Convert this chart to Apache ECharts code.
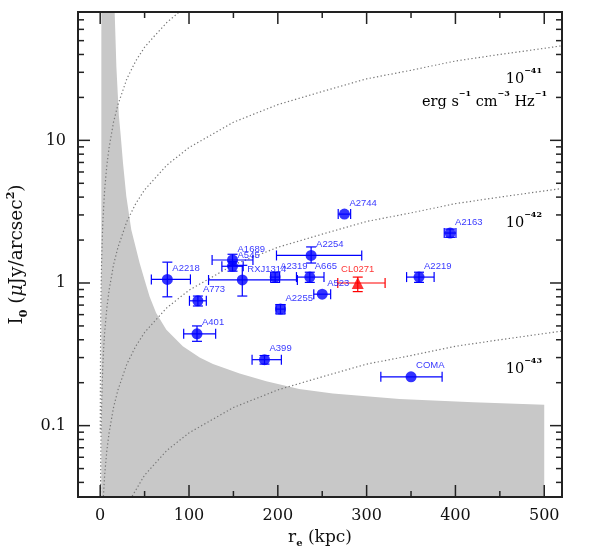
<!DOCTYPE html>
<html>
<head>
<meta charset="utf-8">
<script src="https://cdn.jsdelivr.net/npm/echarts@6/dist/echarts.min.js"></script>
<style>
  html, body { margin: 0; padding: 0; background: #fff; }
  #chart { width: 598px; height: 555px; }
</style>
</head>
<body>
<div id="chart"></div>
<script>
(function(){

    // axis ranges
    var xMin = -25, xMax = 520,
        yMin = 0.0316, yMax = 79.4;

    // tick values
    var xMajorTicks = [0, 100, 200, 300, 400, 500],
        xMinorTicks = [50, 150, 250, 350, 450],
        yMajorTicks = [0.1, 1, 10],
        yTickLabels = ['0.1', '1', '10'],
        yMinorTicks = [0.04, 0.05, 0.06, 0.07, 0.08, 0.09,
                       0.2, 0.3, 0.4, 0.5, 0.6, 0.7, 0.8, 0.9,
                       2, 3, 4, 5, 6, 7, 8, 9,
                       20, 30, 40, 50, 60, 70];

    // clusters (blue)
    var clusterNames = ['A2744', 'A2254', 'A1689', 'A545', 'RXJ1314', 'A2218', 'A773', 'A401',
                        'A399', 'A2319', 'A665', 'A2255', 'A523', 'A2219', 'A2163', 'COMA'];
    var clusterRe    = [275, 237.5, 149, 149, 160, 75.6, 110, 109, 185, 197, 236, 203, 250, 359, 394, 350];
    var clusterReLo  = [7, 39, 23, 12, 38, 18, 9.5, 15, 14, 5, 15, 5, 9.5, 14, 6.6, 34];
    var clusterReHi  = [7, 57, 23, 12, 62, 26, 9.5, 21, 19, 5, 16, 5, 9.5, 17, 6.6, 35];
    var clusterI0    = [3.04, 1.56, 1.45, 1.31, 1.05, 1.06, 0.75, 0.44, 0.29, 1.10, 1.10, 0.656, 0.835, 1.10, 2.24, 0.22];
    var clusterI0Lo  = [0, 0.18, 0.12, 0.10, 0.24, 0.26, 0.06, 0.05, 0.02, 0.09, 0.09, 0.05, 0, 0.09, 0.15, 0];
    var clusterI0Hi  = [0, 0.23, 0.14, 0.10, 0.28, 0.34, 0.06, 0.06, 0.02, 0.09, 0.09, 0.05, 0, 0.09, 0.15, 0];

    // CL0271 (red)
    var clName = ['CL0271'],
        clRe = [290], clReLo = [22.5], clReHi = [30.8],
        clI0 = [1.0], clI0Lo = [0.13], clI0Hi = [0.10];

    // grey excluded region: upper boundary (re, I0), left edge re
    var greyLeftRe = 1.3;
    var greyEdge = [[16.3, 79.4], [18.2, 33], [21, 15], [23, 11], [25.7, 6.9], [29.4, 4.05], [35, 2.36],
                    [44.4, 1.38], [50, 1.05], [55.7, 0.80], [63, 0.615], [74.5, 0.47], [93, 0.36],
                    [112, 0.30], [127, 0.27], [157, 0.232], [187, 0.205], [224, 0.181], [262, 0.168],
                    [337, 0.154], [420, 0.146], [500, 0.140]];

    // constant emissivity curves
    var curveE40 = [[0.1, 0.089], [0.15, 0.134], [0.2, 0.178], [0.3, 0.27], [0.5, 0.45], [0.75, 0.67], [1, 0.89],
                    [1.5, 1.34], [2, 1.78], [3, 2.7], [5, 4.5], [7.5, 6.7], [10, 8.9], [15, 13.4], [20, 17.8],
                    [30, 27], [40, 36], [50, 45], [60, 53], [75, 67], [89, 79.4]];
    var curveE41 = [[0.36, 0.032], [0.5, 0.045], [0.75, 0.067], [1, 0.089], [1.5, 0.134], [2, 0.178], [3, 0.27],
                    [4, 0.36], [5, 0.45], [7.5, 0.67], [10, 0.89], [15, 1.34], [20, 1.78], [30, 2.7], [40, 3.6],
                    [50, 4.5], [75, 6.7], [100, 8.9], [150, 13.4], [200, 17.8], [250, 22], [300, 27],
                    [350, 31], [400, 36], [450, 40], [520, 46]];
    var curveE42 = [[3.6, 0.032], [5, 0.045], [7.5, 0.067], [10, 0.089], [15, 0.134], [20, 0.178], [30, 0.27],
                    [40, 0.36], [50, 0.45], [75, 0.67], [100, 0.89], [150, 1.34], [200, 1.78], [250, 2.2],
                    [300, 2.7], [350, 3.1], [400, 3.6], [450, 4.0], [520, 4.6]];
    var curveE43 = [[36, 0.032], [50, 0.045], [75, 0.067], [100, 0.089], [150, 0.134], [200, 0.178],
                    [250, 0.22], [300, 0.27], [350, 0.31], [400, 0.36], [450, 0.40], [520, 0.46]];

    var chart = echarts.init(document.getElementById('chart'));

    var serif = 'DejaVu Serif',
        blue = '#0000ff',
        red = '#ff0000';

    var tickList = [];
    xMajorTicks.forEach(function(v){ tickList.push({ dim: 'x', v: v, len: 12 }) });
    xMinorTicks.forEach(function(v){ tickList.push({ dim: 'x', v: v, len: 6 }) });
    yMajorTicks.forEach(function(v){ tickList.push({ dim: 'y', v: v, len: 12 }) });
    yMinorTicks.forEach(function(v){ tickList.push({ dim: 'y', v: v, len: 6 }) });

    function seg(x1, y1, x2, y2, color, w){
        return { type: 'line', shape: { x1: x1, y1: y1, x2: x2, y2: y2 },
                 style: { stroke: color, lineWidth: w } };
    }

    function errorBars(re, reLo, reHi, i0, iLo, iHi, color){
        var data = re.map(function(r, k){ return [r, i0[k], reLo[k], reHi[k], iLo[k], iHi[k]] });
        return {
            type: 'custom',
            z: 3,
            data: data,
            renderItem: function(params, api){
                var r = api.value(0), v = api.value(1),
                    a = api.coord([r - api.value(2), v]),
                    b = api.coord([r + api.value(3), v]),
                    c = api.coord([r, v - api.value(4)]),
                    d = api.coord([r, v + api.value(5)]),
                    cap = 5, kids = [];
                if (api.value(2) > 0 || api.value(3) > 0) {
                    kids.push(seg(a[0], a[1], b[0], b[1], color, 1.2));
                    kids.push(seg(a[0], a[1] - cap, a[0], a[1] + cap, color, 1.2));
                    kids.push(seg(b[0], b[1] - cap, b[0], b[1] + cap, color, 1.2));
                }
                if (api.value(4) > 0 || api.value(5) > 0) {
                    kids.push(seg(c[0], c[1], d[0], d[1], color, 1.2));
                    kids.push(seg(c[0] - cap, c[1], c[0] + cap, c[1], color, 1.2));
                    kids.push(seg(d[0] - cap, d[1], d[0] + cap, d[1], color, 1.2));
                }
                return { type: 'group', children: kids };
            }
        };
    }

    function curve(points){
        return {
            type: 'line',
            z: 2,
            data: points,
            showSymbol: false,
            silent: true,
            clip: true,
            lineStyle: { color: '#777', width: 1.2, type: [1.3, 2.4] }
        };
    }

    var supRich = {
        n: { fontFamily: serif, fontSize: 14.5, color: '#111', lineHeight: 20, verticalAlign: 'bottom' },
        s: { fontFamily: serif, fontSize: 8, color: '#111', fontWeight: 'bold', lineHeight: 20, verticalAlign: 'top' }
    };

    var option = {
        backgroundColor: '#fff',
        animation: false,
        grid: {
            left: 78, right: 36, top: 12, bottom: 58,
            outerBoundsMode: 'none',
            containLabel: false,
            show: true, z: 10,
            borderColor: '#222', borderWidth: 2,
            backgroundColor: 'transparent'
        },
        xAxis: {
            type: 'value',
            min: xMin, max: xMax,
            axisLine: { show: false },
            axisTick: { show: false },
            splitLine: { show: false },
            axisLabel: {
                margin: 11,
                fontFamily: serif, fontSize: 16, color: '#111',
                formatter: function(v){ return xMajorTicks.indexOf(v) >= 0 ? String(v) : '' }
            },
            name: '{t|r}{sub|e}{t| (kpc)}',
            nameLocation: 'middle',
            nameGap: 29,
            nameTextStyle: {
                rich: {
                    t: { fontFamily: serif, fontSize: 17, color: '#111', lineHeight: 22, verticalAlign: 'middle' },
                    sub: { fontFamily: serif, fontSize: 10, fontWeight: 'bold', color: '#111', lineHeight: 22, verticalAlign: 'bottom' }
                }
            }
        },
        yAxis: {
            type: 'log',
            min: yMin, max: yMax,
            axisLine: { show: false },
            axisTick: { show: false },
            splitLine: { show: false },
            minorSplitLine: { show: false },
            axisLabel: {
                margin: 12,
                fontFamily: serif, fontSize: 16, color: '#111',
                formatter: function(v){
                    var k = Math.round(Math.log10(v));
                    if (Math.abs(Math.log10(v) - k) < 1e-6 && k >= -1 && k <= 1) return yTickLabels[k + 1];
                    return '';
                }
            },
            name: '{t|I}{sub|0}{t| (}{mu|μ}{t|Jy/arcsec}{sup|2}{t|)}',
            nameLocation: 'middle',
            nameGap: 44,
            nameTextStyle: {
                rich: {
                    t: { fontFamily: serif, fontSize: 18.5, color: '#111', lineHeight: 24, verticalAlign: 'middle' },
                    mu: { fontFamily: serif, fontSize: 18.5, fontStyle: 'italic', color: '#111', lineHeight: 24, verticalAlign: 'middle' },
                    sub: { fontFamily: serif, fontSize: 11, fontWeight: 'bold', color: '#111', lineHeight: 24, verticalAlign: 'bottom' },
                    sup: { fontFamily: serif, fontSize: 11, fontWeight: 'bold', color: '#111', lineHeight: 24, verticalAlign: 'top' }
                }
            }
        },
        graphic: [
            { type: 'text', x: 542, y: 77, z: 20,
              style: { text: '{n|10}{s|−41}', align: 'right', verticalAlign: 'middle', rich: supRich } },
            { type: 'text', x: 547, y: 100, z: 20,
              style: { text: '{n|erg s}{s|−1}{n| cm}{s|−3}{n| Hz}{s|−1}', align: 'right', verticalAlign: 'middle', rich: supRich } },
            { type: 'text', x: 542, y: 221, z: 20,
              style: { text: '{n|10}{s|−42}', align: 'right', verticalAlign: 'middle', rich: supRich } },
            { type: 'text', x: 542, y: 367, z: 20,
              style: { text: '{n|10}{s|−43}', align: 'right', verticalAlign: 'middle', rich: supRich } }
        ],
        series: [
            {
                // grey region
                type: 'custom',
                z: 1,
                clip: true,
                silent: true,
                data: [[greyLeftRe, yMin]],
                renderItem: function(params, api){
                    var pts = [api.coord([greyLeftRe, yMin]), api.coord([greyLeftRe, yMax])];
                    greyEdge.forEach(function(p){ pts.push(api.coord(p)) });
                    pts.push(api.coord([greyEdge[greyEdge.length - 1][0], yMin]));
                    return { type: 'polygon', shape: { points: pts }, style: { fill: '#c8c8c8' } };
                }
            },
            curve(curveE40),
            curve(curveE41),
            curve(curveE42),
            curve(curveE43),
            errorBars(clusterRe, clusterReLo, clusterReHi, clusterI0, clusterI0Lo, clusterI0Hi, blue),
            errorBars(clRe, clReLo, clReHi, clI0, clI0Lo, clI0Hi, red),
            {
                type: 'scatter',
                z: 4,
                symbol: 'circle',
                symbolSize: 11,
                itemStyle: { color: blue },
                data: clusterNames.map(function(n, k){ return { name: n, value: [clusterRe[k], clusterI0[k]] } }),
                label: {
                    show: true,
                    position: [10.5, -5.5],
                    align: 'left',
                    verticalAlign: 'middle',
                    formatter: '{b}',
                    fontFamily: 'Liberation Sans',
                    fontSize: 9.5,
                    color: blue
                }
            },
            {
                type: 'scatter',
                z: 4,
                symbol: 'triangle',
                symbolSize: 12,
                itemStyle: { color: red },
                data: clName.map(function(n, k){ return { name: n, value: [clRe[k], clI0[k]] } }),
                label: {
                    show: true,
                    position: [6, -8],
                    align: 'center',
                    verticalAlign: 'middle',
                    formatter: '{b}',
                    fontFamily: 'Liberation Sans',
                    fontSize: 9.5,
                    color: red
                }
            },
            {
                // ticks on all four sides, pointing inwards
                type: 'custom',
                z: 11,
                clip: false,
                silent: true,
                data: tickList.map(function(t){ return t.dim === 'x' ? [t.v, yMin] : [xMin, t.v] }),
                renderItem: function(params, api){
                    var t = tickList[params.dataIndex], a, b;
                    if (t.dim === 'x') {
                        a = api.coord([t.v, yMin]); b = api.coord([t.v, yMax]);
                        return { type: 'group', children: [
                            seg(a[0], a[1], a[0], a[1] - t.len, '#222', 1.5),
                            seg(b[0], b[1], b[0], b[1] + t.len, '#222', 1.5)
                        ] };
                    }
                    a = api.coord([xMin, t.v]); b = api.coord([xMax, t.v]);
                    return { type: 'group', children: [
                        seg(a[0], a[1], a[0] + t.len, a[1], '#222', 1.5),
                        seg(b[0], b[1], b[0] - t.len, b[1], '#222', 1.5)
                    ] };
                }
            }
        ]
    };

    chart.setOption(option);

})()
</script>
</body>
</html>
